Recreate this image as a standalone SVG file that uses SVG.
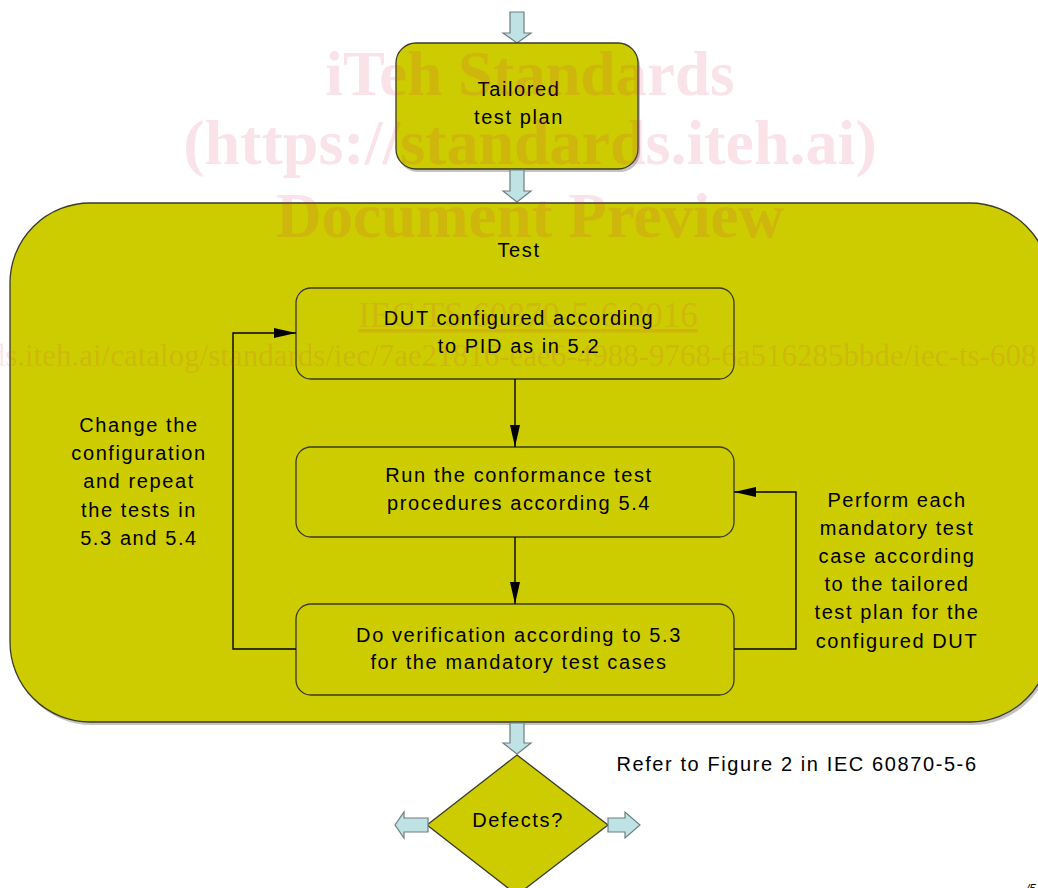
<svg xmlns="http://www.w3.org/2000/svg" width="1038" height="888" viewBox="0 0 1038 888">
<defs>
<style>
.t{font-family:"Liberation Sans",Arial,sans-serif;font-size:20px;letter-spacing:1.6px;fill:#000;text-anchor:middle}
.box{fill:#cdcc00;stroke:#3a3a2a;stroke-width:1.3}
.blk{fill:#bfe2e5;stroke:#6f7f80;stroke-width:1.2}
.con{fill:none;stroke:#000;stroke-width:1.4}
.wm{font-family:"Liberation Serif","Times New Roman",serif;fill:#d8305c;fill-opacity:0.14;text-anchor:middle}
</style>
<marker id="ah" markerUnits="userSpaceOnUse" markerWidth="22" markerHeight="10" refX="22" refY="5" orient="auto">
<path d="M0,0 L22,5 L0,10 z" fill="#000"/>
</marker>
</defs>
<rect width="1038" height="888" fill="#fff"/>

<g id="arrow-in">
<polygon class="blk" points="510,12 524,12 524,33 531,33 517,43 503,33 510,33"/>
</g>
<g id="tailored">
<rect x="398" y="46" width="242" height="126" rx="20" fill="#888" opacity="0.5"/>
<rect class="box" x="396" y="43" width="242" height="126" rx="20"/>
<text class="t" x="519" y="96">Tailored</text>
<text class="t" x="519" y="124">test plan</text>
</g>
<g id="arrow-mid">
<polygon class="blk" points="510,170 524,170 524,191 531,191 517,202 503,191 510,191"/>
</g>
<g id="test">
<rect x="12" y="206" width="1040" height="519" rx="80" fill="#888" opacity="0.5"/>
<rect class="box" x="10" y="203" width="1040" height="519" rx="80"/>
<text class="t" x="519" y="257">Test</text>
</g>
<g id="dut">
<rect class="box" x="296" y="288" width="438" height="91" rx="15"/>
<text class="t" x="519" y="325">DUT configured according</text>
<text class="t" x="519" y="353">to PID as in 5.2</text>
</g>
<g id="run">
<rect class="box" x="296" y="447" width="438" height="90" rx="15"/>
<text class="t" x="519" y="482">Run the conformance test</text>
<text class="t" x="519" y="510">procedures according 5.4</text>
</g>
<g id="verify">
<rect class="box" x="296" y="604" width="438" height="91" rx="15"/>
<text class="t" x="519" y="642">Do verification according to 5.3</text>
<text class="t" x="519" y="669">for the mandatory test cases</text>
</g>
<g id="connectors">
<line class="con" x1="515" y1="379" x2="515" y2="447" marker-end="url(#ah)"/>
<line class="con" x1="515" y1="537" x2="515" y2="604" marker-end="url(#ah)"/>
<polyline class="con" points="296,649 233,649 233,333 296,333" marker-end="url(#ah)"/>
<polyline class="con" points="734,649 796,649 796,492 734,492" marker-end="url(#ah)"/>
</g>
<g id="label-change">
<text class="t" x="139" y="432">Change the</text>
<text class="t" x="139" y="460">configuration</text>
<text class="t" x="139" y="488">and repeat</text>
<text class="t" x="139" y="517">the tests in</text>
<text class="t" x="139" y="545">5.3 and 5.4</text>
</g>
<g id="label-perform">
<text class="t" x="897" y="507">Perform each</text>
<text class="t" x="897" y="535">mandatory test</text>
<text class="t" x="897" y="563">case according</text>
<text class="t" x="897" y="591">to the tailored</text>
<text class="t" x="897" y="619">test plan for the</text>
<text class="t" x="897" y="648">configured DUT</text>
</g>
<g id="arrow-out">
<polygon class="blk" points="510,723 524,723 524,743 531,743 517,754 503,743 510,743"/>
</g>
<g id="defects">
<polygon class="box" points="517,755 608,825 517,895 427,825"/>
<text class="t" x="518" y="827">Defects?</text>
</g>
<g id="arrow-left">
<polygon class="blk" points="428,818 404,818 404,812 395,825 404,838 404,832 428,832"/>
</g>
<g id="arrow-right">
<polygon class="blk" points="608,818 625,818 625,812 640,825 625,838 625,832 608,832"/>
</g>
<g id="refer">
<text class="t" x="797" y="771">Refer to Figure 2 in IEC 60870-5-6</text>
</g>
<text x="1026" y="893" font-family="Liberation Sans,Arial,sans-serif" font-size="12" font-style="italic" fill="#000">/5</text>

<g id="watermark">
<text class="wm" x="530" y="95" font-size="63" font-weight="bold">iTeh Standards</text>
<text class="wm" x="530" y="164" font-size="64" font-weight="bold">(https://standards.iteh.ai)</text>
<text class="wm" x="530" y="237" font-size="63" font-weight="bold">Document Preview</text>
<text class="wm" x="528" y="327" font-size="35" text-decoration="underline">IEC TS 60870-5-6:2016</text>
<text class="wm" x="-186" y="366" font-size="31" style="text-anchor:start">https://standards.iteh.ai/catalog/standards/iec/7ae21816-eae6-4988-9768-6a516285bbde/iec-ts-60870-5-6-2016</text>
</g>
</svg>
